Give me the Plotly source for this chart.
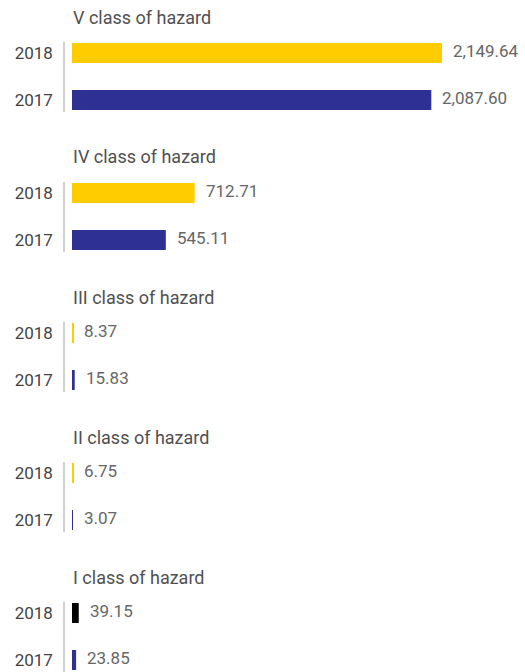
import plotly.graph_objects as go

classes = ["V class of hazard", "IV class of hazard", "III class of hazard",
           "II class of hazard", "I class of hazard"]
years = ["2018", "2017"]
values_2018 = [2149.64, 712.71, 8.37, 6.75, 39.15]
values_2017 = [2087.60, 545.11, 15.83, 3.07, 23.85]
colors_2018 = ["#FFCC00", "#FFCC00", "#FFCC00", "#FFCC00", "#000000"]
color_2017 = "#2E3192"

W, H = 525, 672
FONT = "Roboto"
x_left_px, x_right_px = 65, 520
px_per_unit = 370 / 2149.64
x0 = -(72 - 65) / px_per_unit
x1 = x0 + (x_right_px - x_left_px) / px_per_unit

year_pos = {"2018": 1, "2017": 0}

fig = go.Figure()
layout = dict(
    width=W, height=H,
    margin=dict(l=0, r=0, t=0, b=0),
    paper_bgcolor="white", plot_bgcolor="white",
    showlegend=False,
    annotations=[],
)

group_step = 140
for i, name in enumerate(classes):
    n = "" if i == 0 else str(i + 1)
    top_px = 42 + group_step * i
    bot_px = 112 + group_step * i
    xa, ya = "x" + n, "y" + n
    v18, v17 = values_2018[i], values_2017[i]
    ys = [year_pos[y] for y in years]
    fig.add_trace(go.Bar(
        x=[v18, v17], y=ys, orientation="h",
        marker=dict(color=[colors_2018[i], color_2017], line=dict(width=0)),
        width=0.4255, xaxis=xa, yaxis=ya, hoverinfo="skip",
    ))
    layout["xaxis" + n] = dict(
        domain=[x_left_px / W, x_right_px / W], range=[x0, x1],
        anchor=ya, visible=False, showgrid=False, zeroline=False, fixedrange=True,
    )
    layout["yaxis" + n] = dict(
        domain=[1 - bot_px / H, 1 - top_px / H],
        anchor=xa, range=[-0.255, 1.234],
        tickmode="array", tickvals=ys, ticktext=years,
        showline=True, linecolor="#d0d0d0", linewidth=1.5,
        showgrid=False, zeroline=False, ticks="",
        ticklabelstandoff=7,
        tickfont=dict(family=FONT, size=17, color="#444444"),
        fixedrange=True,
    )
    layout["annotations"].append(dict(
        x=71 / W, y=1 - (17 + group_step * i) / H, xref="paper", yref="paper",
        xanchor="left", yanchor="middle", showarrow=False, text=name,
        font=dict(family=FONT, size=18, color="#505050"),
    ))
    for yv, v in zip(ys, [v18, v17]):
        layout["annotations"].append(dict(
            x=v, y=yv, xref=xa, yref=ya, xanchor="left", yanchor="middle",
            xshift=9, yshift=2, showarrow=False, text=f"{v:,.2f}",
            font=dict(family=FONT, size=17, color="#666666"),
        ))

fig.update_layout(**layout)
fig.write_html("out.html", config={"displayModeBar": False},
               post_script="document.body.style.margin='0';")
